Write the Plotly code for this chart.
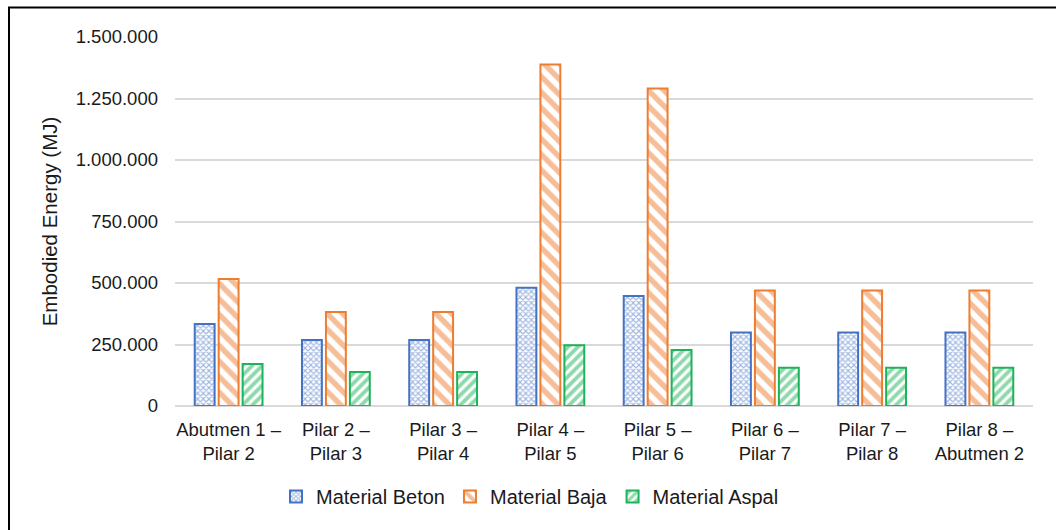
import plotly.graph_objects as go

categories = ["Abutmen 1 –<br>Pilar 2", "Pilar 2 –<br>Pilar 3", "Pilar 3 –<br>Pilar 4", "Pilar 4 –<br>Pilar 5",
              "Pilar 5 –<br>Pilar 6", "Pilar 6 –<br>Pilar 7", "Pilar 7 –<br>Pilar 8", "Pilar 8 –<br>Abutmen 2"]
beton = [333000, 268000, 268000, 481000, 447000, 299000, 299000, 299000]
baja = [516000, 382000, 382000, 1388000, 1291000, 470000, 470000, 470000]
aspal = [171000, 138000, 138000, 247000, 228000, 155000, 155000, 155000]
y_ticks = [0, 250000, 500000, 750000, 1000000, 1250000, 1500000]

FONT = "Liberation Sans, Arial, sans-serif"
fig = go.Figure()
series = [
    ("Material Beton", beton, "#4472C4", "x", 4, 0.5),
    ("Material Baja", baja, "#ED7D31", "\\", 11, 0.5),
    ("Material Aspal", aspal, "#1DB35A", "/", 7, 0.55),
]
for name, vals, col, shp, sz, sol in series:
    fig.add_trace(go.Bar(
        name=name, x=categories, y=vals,
        marker=dict(color="white", line=dict(color=col, width=2),
                    pattern=dict(shape=shp, fgcolor=col, bgcolor="white", size=sz, solidity=sol,
                                 fillmode="overlay")),
    ))

fig.update_layout(
    width=1056, height=530,
    margin=dict(l=175, r=23, t=37, b=124),
    paper_bgcolor="white", plot_bgcolor="white",
    separators=",.",
    barmode="group", bargap=0.33, bargroupgap=0.17,
    font=dict(family=FONT, size=18.5, color="#1a1a1a"),
    showlegend=True,
    legend=dict(orientation="h", x=(530 - 175) / 858, xanchor="center", y=-0.245, yanchor="middle",
                font=dict(size=20, color="#1a1a1a"), itemwidth=30, traceorder="normal"),
    xaxis=dict(showgrid=False, showline=False, ticks="", tickfont=dict(size=18.5), ticklabelstandoff=10),
    yaxis=dict(range=[0, 1500000], tickvals=y_ticks, tickformat=",d",
               showgrid=True, gridcolor="#D9D9D9", gridwidth=1.5,
               zeroline=True, zerolinecolor="#D9D9D9", zerolinewidth=1.5,
               showline=False, ticks="", ticklabelstandoff=16, tickfont=dict(size=18.5),
               title=dict(text="Embodied Energy (MJ)", font=dict(size=20.5), standoff=12)),
    shapes=[dict(type="rect", xref="paper", yref="paper",
                 x0=(9 - 175) / 858, x1=(1062 - 175) / 858,
                 y0=-0.5, y1=(406 - 7.5) / 369,
                 line=dict(color="#000000", width=2), fillcolor="rgba(0,0,0,0)", layer="below")],
)

fig.write_html("out.html")
